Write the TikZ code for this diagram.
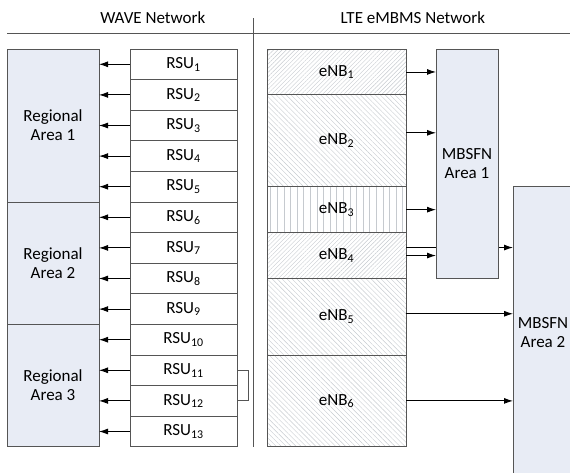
\documentclass[tikz,border=0pt]{standalone}
\usepackage{fontspec}
\setmainfont{Carlito}
\usetikzlibrary{positioning,patterns.meta,arrows.meta}

\definecolor{areafill}{HTML}{E8ECF5}
\definecolor{linec}{HTML}{555555}
\definecolor{hatch}{HTML}{C6CACF}

\begin{document}
\begin{tikzpicture}[x=1pt,y=-1pt,->,>={Latex[length=9pt,width=6pt]},line width=0.9pt,
  every node/.style={font=\fontsize{17}{19}\selectfont,outer sep=0pt}]
\tikzstyle{box}=[draw=linec,shape=rectangle,inner sep=0pt]
\tikzstyle{rsu}=[box,fill=white,minimum width=107,minimum height=30.6]
\tikzstyle{area}=[box,fill=areafill,align=center,minimum width=92]
\tikzstyle{enb}=[box,minimum width=139,pattern color=hatch]
\tikzstyle{mbsfn}=[box,fill=areafill,align=center,minimum width=62]
\useasboundingbox (0,0) rectangle (570,472);
\clip (0,0) rectangle (570,472);

% headings and the dividing lines
\node (wave) at (152.8,18) {WAVE Network};
\node (lte) at (412.8,18) {LTE eMBMS Network};
\draw[-,linec] (7,33) -- (570,33);
\draw[-,linec] (253,18) -- (253,447);

% WAVE side
\node[area,minimum height=153] (ra1) at (53,125.5) {Regional\\Area 1};
\node[area,minimum height=122.4,below=0pt of ra1] (ra2) {Regional\\Area 2};
\node[area,minimum height=122.4,below=0pt of ra2] (ra3) {Regional\\Area 3};
\node[rsu] (r1) at (183.5,64.3) {RSU\textsubscript{1}};
\foreach \i [evaluate=\i as \j using int(\i-1)] in {2,...,13}
  \node[rsu,below=0pt of r\j] (r\i) {RSU\textsubscript{\i}};
\foreach \i/\a in {1/1,2/1,3/1,4/1,5/1,6/2,7/2,8/2,9/2,10/3,11/3,12/3,13/3}
  \draw (r\i.west) -- (r\i.west -| ra\a.east);
\draw[-,linec] (r11.east) -- ++(11,0) |- (r12.east);

% LTE side
\node[enb,minimum height=45.9,pattern={Lines[angle=45,distance=3pt,line width=0.4pt]}] (e1) at (336.5,71.95) {eNB\textsubscript{1}};
\node[enb,minimum height=91.8,pattern={Lines[angle=-45,distance=3.5pt,line width=0.4pt]},below=0pt of e1] (e2) {eNB\textsubscript{2}};
\node[enb,minimum height=45.9,pattern={Lines[angle=90,distance=6.6pt,line width=0.4pt]},below=0pt of e2] (e3) {eNB\textsubscript{3}};
\node[enb,minimum height=45.9,pattern={Lines[angle=45,distance=3pt,line width=0.4pt]},below=0pt of e3] (e4) {eNB\textsubscript{4}};
\node[enb,minimum height=76.5,pattern={Lines[angle=-45,distance=3.5pt,line width=0.4pt]},below=0pt of e4] (e5) {eNB\textsubscript{5}};
\node[enb,minimum height=91.8,pattern={Lines[angle=-45,distance=3.5pt,line width=0.4pt]},below=0pt of e5] (e6) {eNB\textsubscript{6}};

\node[mbsfn,minimum width=60,minimum height=294] (m2) at (543,333) {MBSFN\\Area 2};
% eNB4 also feeds area 2, passing under area 1
\draw ([yshift=8pt]e4.east) -- ([yshift=8pt]e4.east -| m2.west);
\node[mbsfn,minimum height=229.5] (m1) at (467,163.75) {MBSFN\\Area 1};
\draw (e1.east) -- (e1.east -| m1.west);
\draw ([yshift=8pt]e2.east) -- ([yshift=8pt]e2.east -| m1.west);
\draw (e3.east) -- (e3.east -| m1.west);
\draw (e4.east) -- (e4.east -| m1.west);
\draw ([yshift=3pt]e5.east) -- ([yshift=3pt]e5.east -| m2.west);
\draw (e6.east) -- (e6.east -| m2.west);
\end{tikzpicture}
\end{document}
